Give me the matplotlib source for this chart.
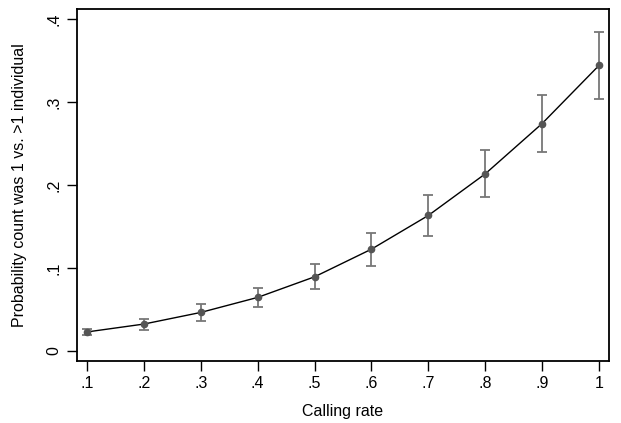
import numpy as np
import matplotlib.pyplot as plt

plt.rcParams['font.family'] = ['Liberation Sans', 'DejaVu Sans']

# calling rate vs probability
rate = [0.1, 0.2, 0.3, 0.4, 0.5, 0.6, 0.7, 0.8, 0.9, 1.0]
prob = [0.023, 0.0325, 0.0465, 0.0646, 0.0894, 0.1227, 0.1633, 0.2134, 0.274, 0.344]
err = [0.004, 0.0066, 0.010, 0.0116, 0.015, 0.020, 0.0243, 0.0283, 0.0343, 0.040]

xticks = [0.1, 0.2, 0.3, 0.4, 0.5, 0.6, 0.7, 0.8, 0.9, 1.0]
xlabels = ['.1', '.2', '.3', '.4', '.5', '.6', '.7', '.8', '.9', '1']
yticks = [0, 0.1, 0.2, 0.3, 0.4]
ylabels = ['0', '.1', '.2', '.3', '.4']

fig = plt.figure(figsize=(6.21, 4.23), dpi=100)
ax = fig.add_axes([77/621, 1 - 361/423, 532/621, 352/423])

ax.plot(rate, prob, color='black', lw=1.0, zorder=2)
ax.errorbar(rate, prob, yerr=err, fmt='none', ecolor='#777777',
            elinewidth=1.3, capsize=3.5, capthick=1.3, zorder=3)
ax.plot(rate, prob, 'o', color='#555555', ms=4.5, zorder=4)

ax.set_xlim(0.0824, 1.0176)
ax.set_ylim(-0.012, 0.412)
ax.set_xticks(xticks)
ax.set_xticklabels(xlabels)
ax.set_yticks(yticks)
ax.set_yticklabels(ylabels, rotation=90, va='center')

ax.tick_params(direction='out', length=7, width=1.0, labelsize=11.5, pad=4)
for s in ax.spines.values():
    s.set_linewidth(1.3)

ax.set_xlabel('Calling rate', fontsize=11.5, labelpad=9)
ax.set_ylabel('Probability count was 1 vs. >1 individual', fontsize=11.5, labelpad=14)

fig.savefig('out.png', dpi=100)
